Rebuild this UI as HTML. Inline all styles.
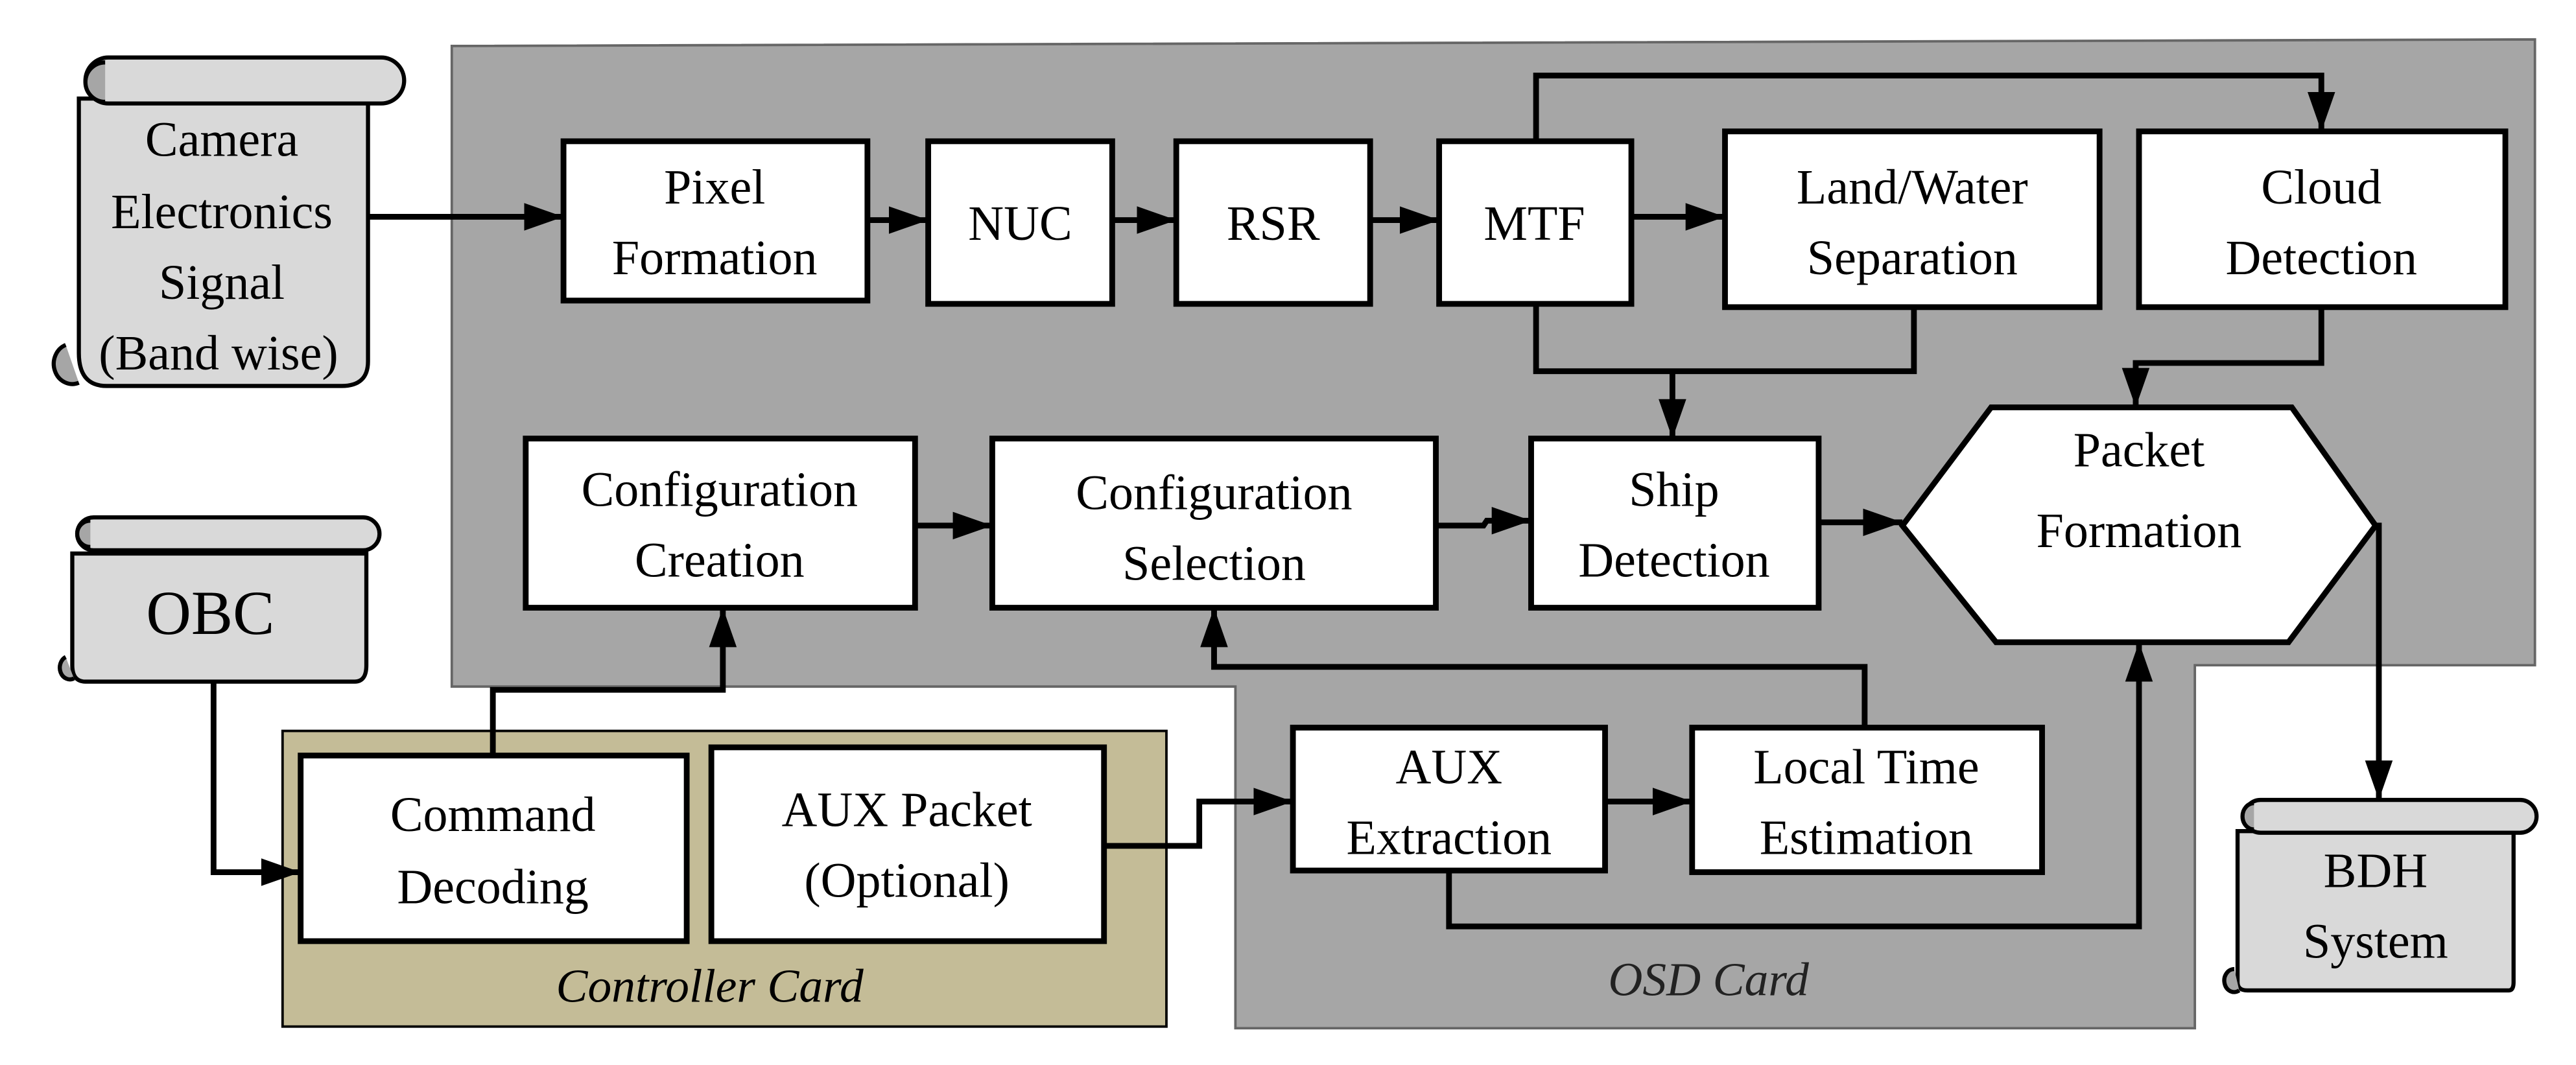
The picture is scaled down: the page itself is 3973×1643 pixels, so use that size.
<!DOCTYPE html>
<html><head><meta charset="utf-8"><style>
html,body{margin:0;padding:0;background:#fff;}
svg{display:block;}
svg text{font-family:"Liberation Serif","DejaVu Serif",serif !important;font-size:30px;fill:#000;text-anchor:middle;}
</style></head><body>
<svg width="3973" height="1643" viewBox="0 0 1568 648.4" preserveAspectRatio="none" xmlns="http://www.w3.org/2000/svg" font-family="Liberation Serif, serif">
<defs>
<marker id="b" viewBox="0 0 10 10" refX="10" refY="5" markerWidth="24" markerHeight="24" orient="auto" markerUnits="userSpaceOnUse"><path d="M0,1.5L10,5L0,8.5z" fill="#000"/></marker>
</defs>
<path d="M275,28 L1543,24 L1543,405 L1336,405 L1336,626 L752,626 L752,418 L275,418 Z" fill="#a6a6a6" stroke="#666" stroke-width="1.5"/>
<rect x="172" y="445" width="538" height="180" fill="#c4bc97" stroke="#000" stroke-width="1.5"/>
<text x="432" y="610" style="font-style:italic;font-size:29px">Controller Card</text>
<text x="1040" y="606" style="font-style:italic;font-size:29px;fill:#222">OSD Card</text>

<g stroke="#000" stroke-width="2.5" fill="#d9d9d9">
<path d="M48,60 L48,215 Q48,235 65,235 L208,235 Q224,235 224,220 L224,60 Z"/>
<rect x="52" y="35" width="194" height="28" rx="14"/>
<path d="M64,38 a12,12 0 1,0 0,24" fill="#a6a6a6"/>
<path d="M40,210 a11,12 0 1,0 8,23" fill="#a6a6a6"/>
<path d="M44,337 L44,405 Q44,415 52,415 L216,415 Q223,415 223,405 L223,337 Z"/>
<rect x="47" y="315" width="184" height="20" rx="10"/>
<path d="M55,317 a8,8 0 1,0 0,16" fill="#a6a6a6"/>
<path d="M40,400 a6,7 0 1,0 5,13" fill="#a6a6a6"/>
<path d="M1362,506 L1362,598 Q1362,603 1368,603 L1527,603 Q1530,603 1530,598 L1530,506 Z"/>
<rect x="1366" y="487" width="178" height="20" rx="10"/>
<path d="M1372,489 a7,8 0 1,0 0,16" fill="#a6a6a6"/>
<path d="M1360,590 a6,7 0 1,0 3,13" fill="#a6a6a6"/>
</g>
<text x="135" y="95">Camera</text>
<text x="135" y="139">Electronics</text>
<text x="135" y="182">Signal</text>
<text x="133" y="225">(Band wise)</text>
<text x="128" y="386" style="font-size:38px">OBC</text>
<text x="1446" y="540">BDH</text>
<text x="1446" y="583">System</text>

<g fill="#fff" stroke="#000" stroke-width="3.5">
<rect x="343" y="86" width="185" height="97"/>
<rect x="565" y="86" width="112" height="99"/>
<rect x="716" y="86" width="118" height="99"/>
<rect x="876" y="86" width="117" height="99"/>
<rect x="1050" y="80" width="228" height="107"/>
<rect x="1302" y="80" width="223" height="107"/>
<rect x="320" y="267" width="237" height="103"/>
<rect x="604" y="267" width="270" height="103"/>
<rect x="932" y="267" width="175" height="103"/>
<polygon points="1158,320 1212,248 1395,248 1446,320 1393,391 1215,391"/>
<rect x="787" y="443" width="190" height="87"/>
<rect x="1030" y="443" width="213" height="88"/>
<rect x="183" y="460" width="235" height="113"/>
<rect x="433" y="455" width="239" height="118"/>
</g>
<text x="435" y="124">Pixel</text>
<text x="435" y="167">Formation</text>
<text x="621" y="146">NUC</text>
<text x="775" y="146">RSR</text>
<text x="934" y="146">MTF</text>
<text x="1164" y="124">Land/Water</text>
<text x="1164" y="167">Separation</text>
<text x="1413" y="124">Cloud</text>
<text x="1413" y="167">Detection</text>
<text x="438" y="308">Configuration</text>
<text x="438" y="351">Creation</text>
<text x="739" y="310">Configuration</text>
<text x="739" y="353">Selection</text>
<text x="1019" y="308">Ship</text>
<text x="1019" y="351">Detection</text>
<text x="1302" y="284">Packet</text>
<text x="1302" y="333">Formation</text>
<text x="882" y="477">AUX</text>
<text x="882" y="520">Extraction</text>
<text x="1136" y="477">Local Time</text>
<text x="1136" y="520">Estimation</text>
<text x="300" y="506">Command</text>
<text x="300" y="550">Decoding</text>
<text x="552" y="503">AUX Packet</text>
<text x="552" y="546">(Optional)</text>

<g fill="none" stroke="#000" stroke-width="3.5" marker-end="url(#b)">
<path d="M224,132 L343,132"/>
<path d="M528,134 L565,134"/>
<path d="M677,134 L716,134"/>
<path d="M834,134 L876,134"/>
<path d="M993,132 L1050,132"/>
<path d="M935,86 L935,46 L1413,46 L1413,80"/>
<path d="M935,185 L935,226 L1165,226 L1165,187 M1018,226 L1018,267"/>
<path d="M1413,187 L1413,221 L1300,221 L1300,248"/>
<path d="M557,320 L604,320"/>
<path d="M874,320 L903,320 L905,317 L932,317"/>
<path d="M1107,318 L1158,318"/>
<path d="M1446,320 L1448,320 L1448,487"/>
<path d="M130,415 L130,531 L183,531"/>
<path d="M300,460 L300,420 L440,420 L440,370"/>
<path d="M672,515 L730,515 L730,488 L787,488"/>
<path d="M977,488 L1030,488"/>
<path d="M1135,443 L1135,406 L739,406 L739,370"/>
<path d="M882,530 L882,564 L1302,564 L1302,391"/>
</g>
</svg>
</body></html>
